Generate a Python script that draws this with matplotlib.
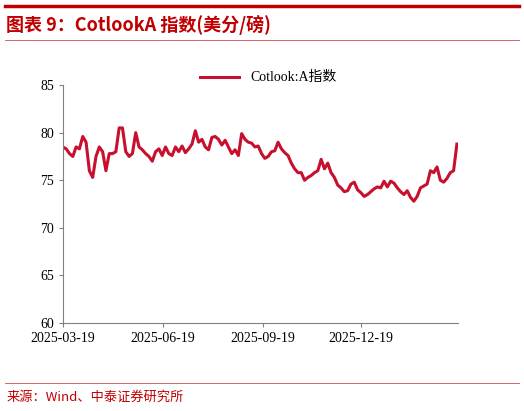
import numpy as np
import pandas as pd
import matplotlib
matplotlib.use('Agg')
import matplotlib.pyplot as plt
import matplotlib.dates as mdates

plt.rcParams['font.family'] = ['Liberation Serif', 'Noto Sans CJK SC']

start_date = '2025-03-19'
end_date = '2026-03-17'
cotlook = [78.5, 78.3, 77.8, 77.5, 78.5, 78.3, 79.6, 79.0, 76.0, 75.3, 77.5, 78.5, 78.0, 76.0,
           77.8, 77.8, 78.0, 80.5, 80.5, 78.0, 77.5, 77.8, 80.0, 78.5, 78.2, 77.8, 77.5, 77.0,
           78.0, 78.3, 77.6, 78.5, 77.8, 77.6, 78.5, 78.0, 78.6, 77.9, 78.3, 78.8, 80.2, 79.0,
           79.3, 78.5, 78.2, 79.5, 79.6, 79.3, 78.7, 79.2, 78.5, 77.8, 78.2, 77.6, 79.9, 79.3,
           79.0, 78.9, 78.5, 78.6, 77.8, 77.3, 77.5, 78.0, 78.1, 79.0, 78.3, 77.9, 77.6, 76.8,
           76.2, 75.8, 75.8, 75.0, 75.3, 75.5, 75.8, 76.0, 77.2, 76.2, 76.8, 75.8, 75.3, 74.5,
           74.2, 73.8, 73.9, 74.6, 74.8, 74.0, 73.7, 73.3, 73.5, 73.8, 74.1, 74.3, 74.2, 74.9,
           74.3, 74.9, 74.7, 74.2, 73.8, 73.5, 73.9, 73.2, 72.8, 73.3, 74.2, 74.4, 74.6, 76.0,
           75.8, 76.4, 75.0, 74.8, 75.2, 75.8, 76.0, 78.8]
tick_dates = ['2025-03-19', '2025-06-19', '2025-09-19', '2025-12-19']

dates = pd.date_range(start_date, end_date, periods=len(cotlook))

red = '#C00000'
fig = plt.figure(figsize=(5.24, 4.11), dpi=100)

# header / footer decorations
fig.add_artist(plt.Line2D([0.01, 0.99], [0.985, 0.985], color=red, lw=2.5))
fig.add_artist(plt.Line2D([0.01, 0.99], [0.903, 0.903], color=red, lw=0.6, alpha=0.7))
fig.text(0.012, 0.94, '图表 9：CotlookA 指数(美分/磅)', color=red, fontsize=13, style='italic',
         weight='bold', family=['Noto Sans CJK SC', 'DejaVu Sans'], va='center')
fig.add_artist(plt.Line2D([0.01, 0.99], [0.068, 0.068], color=red, lw=0.6, alpha=0.7))
fig.text(0.012, 0.033, '来源：Wind、中泰证券研究所', color=red, fontsize=9.5,
         family=['Noto Sans CJK SC', 'DejaVu Sans'], va='center')

ax = fig.add_axes([0.120, 0.214, 0.754, 0.579])
ax.plot(dates, cotlook, color='#C8102E', lw=2.2, label='Cotlook:A指数')
ax.set_ylim(60, 85)
ax.set_yticks(range(60, 86, 5))
ax.set_xlim(pd.Timestamp(start_date), pd.Timestamp(end_date) + pd.Timedelta(days=1))
ax.set_xticks(pd.to_datetime(tick_dates))
ax.xaxis.set_major_formatter(mdates.DateFormatter('%Y-%m-%d'))
ax.tick_params(labelsize=10, direction='out', length=3, color='#808080')
for s in ['top', 'right']:
    ax.spines[s].set_visible(False)
for s in ['left', 'bottom']:
    ax.spines[s].set_color('#808080')
ax.legend(loc='upper center', frameon=False, fontsize=10, handlelength=2.8,
          bbox_to_anchor=(0.52, 1.11))

fig.savefig('out.png', dpi=100)
